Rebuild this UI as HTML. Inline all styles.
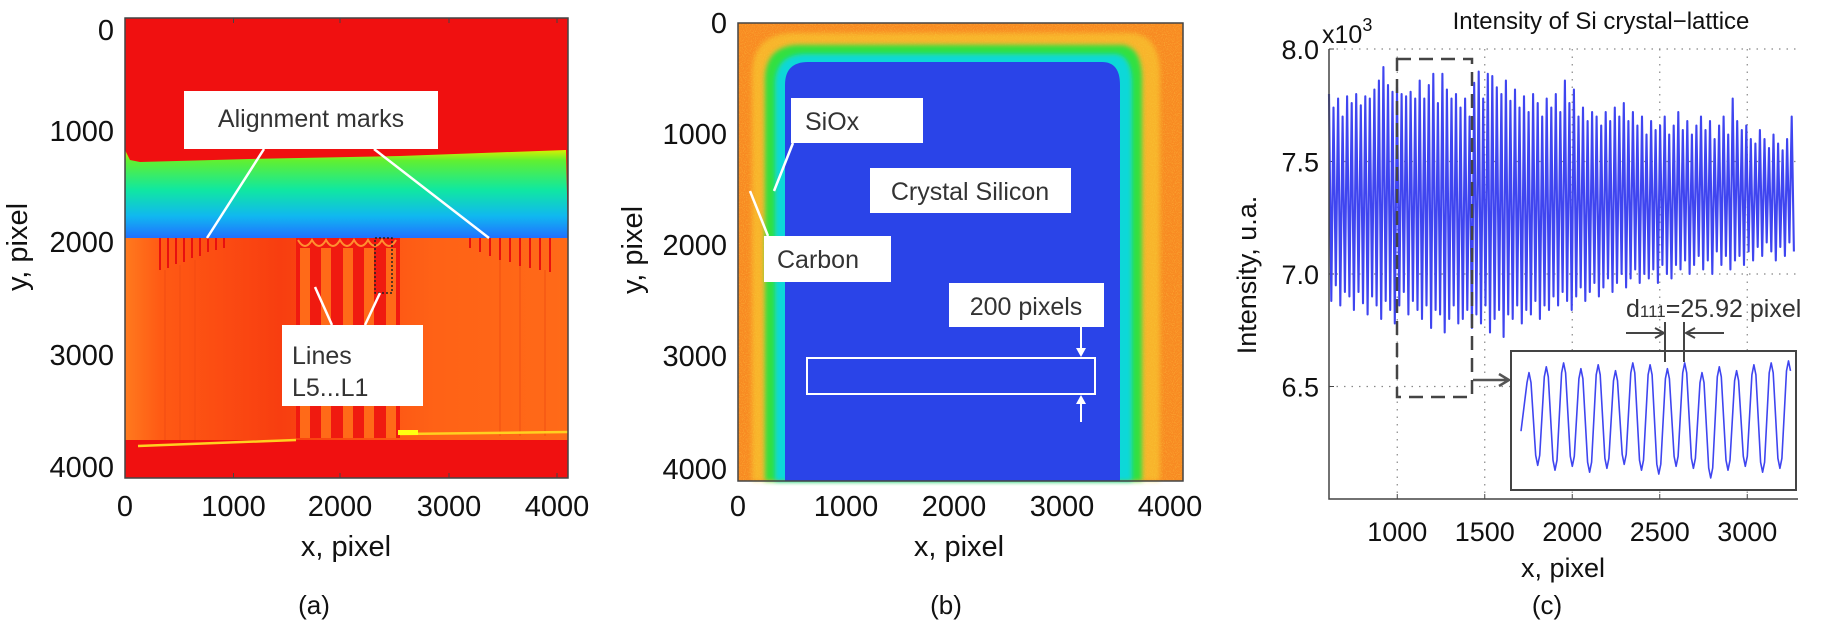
<!DOCTYPE html>
<html><head><meta charset="utf-8"><style>
html,body{margin:0;padding:0;background:#fff;}
svg{display:block;font-family:"Liberation Sans",Arial,sans-serif;}
</style></head><body>
<svg id="fig" width="1843" height="626" viewBox="0 0 1843 626">
<defs>
<linearGradient id="gA" x1="0" y1="0" x2="0" y2="1">
<stop offset="0" stop-color="#d8f000"/><stop offset="0.12" stop-color="#60f030"/><stop offset="0.45" stop-color="#10e8a0"/><stop offset="0.75" stop-color="#10b8f0"/><stop offset="1" stop-color="#2070ff"/></linearGradient>
<linearGradient id="gO" x1="0" y1="0" x2="1" y2="0">
<stop offset="0" stop-color="#ff7a1e"/><stop offset="0.08" stop-color="#ff5a14"/><stop offset="0.35" stop-color="#f83e10"/><stop offset="0.7" stop-color="#ff6216"/><stop offset="1" stop-color="#ff6a18"/></linearGradient>
<filter id="noise" x="0" y="0" width="100%" height="100%"><feTurbulence type="fractalNoise" baseFrequency="0.9" numOctaves="1" seed="3"/><feColorMatrix values="0 0 0 0 1  0 0 0 0 0.85  0 0 0 0 0.1  0 0 0 1.2 -0.55"/></filter>
<filter id="blur2"><feGaussianBlur stdDeviation="2.5"/></filter>
</defs>

<!-- PANEL A -->
<g>
<rect x="125" y="18" width="443" height="460" fill="#f01010"/>
<path d="M125,150 L130,160 L140,162 L250,159 L400,156 L566,150 L568,238 L125,238 Z" fill="url(#gA)"/>
<rect x="125" y="238" width="443" height="202" fill="url(#gO)"/>
<rect x="296" y="238" width="104" height="200" fill="#f01a10"/>
<g fill="#ff6a18">
<rect x="300" y="248" width="10" height="190"/><rect x="321" y="248" width="10" height="190"/><rect x="343" y="248" width="10" height="190"/><rect x="364" y="248" width="10" height="190"/><rect x="386" y="248" width="10" height="190"/></g>
<g stroke="#ff9030" stroke-width="2" fill="none"><path d="M298,240 q7,12 14,0 q7,12 14,0 q7,12 14,0 q7,12 14,0 q7,12 14,0 q7,12 14,0 q7,12 14,0"/></g>
<g stroke="#e81010" stroke-width="2">
<line x1="160" y1="238" x2="160" y2="270"/><line x1="168" y1="238" x2="168" y2="268"/><line x1="176" y1="238" x2="176" y2="264"/><line x1="184" y1="238" x2="184" y2="262"/><line x1="192" y1="238" x2="192" y2="258"/><line x1="200" y1="238" x2="200" y2="256"/><line x1="208" y1="238" x2="208" y2="252"/><line x1="216" y1="238" x2="216" y2="250"/><line x1="224" y1="238" x2="224" y2="248"/></g>
<g stroke="#e81010" stroke-width="2">
<line x1="470" y1="238" x2="470" y2="248"/><line x1="480" y1="238" x2="480" y2="252"/><line x1="490" y1="238" x2="490" y2="256"/><line x1="500" y1="238" x2="500" y2="260"/><line x1="510" y1="238" x2="510" y2="262"/><line x1="520" y1="238" x2="520" y2="266"/><line x1="530" y1="238" x2="530" y2="268"/><line x1="540" y1="238" x2="540" y2="270"/><line x1="550" y1="238" x2="550" y2="272"/></g>
<g stroke="#f04a12" stroke-width="1" opacity="0.8"><line x1="165" y1="270" x2="165" y2="440"/><line x1="180" y1="265" x2="180" y2="440"/><line x1="195" y1="260" x2="195" y2="440"/><line x1="500" y1="260" x2="500" y2="436"/><line x1="520" y1="266" x2="520" y2="436"/><line x1="545" y1="270" x2="545" y2="436"/></g>
<path d="M138,446 L296,440 M400,434 L568,432" stroke="#ffd020" stroke-width="2.5" fill="none"/>
<rect x="398" y="430" width="20" height="5" fill="#ffff10"/>
<rect x="375" y="238" width="17" height="55" fill="none" stroke="#222" stroke-width="1.5" stroke-dasharray="2,2"/>
<rect x="125" y="18" width="443" height="460" fill="none" stroke="#444" stroke-width="1.5"/>
<g stroke="#444" stroke-width="1"><line x1="233.5" y1="478" x2="233.5" y2="473"/><line x1="340" y1="478" x2="340" y2="473"/><line x1="449" y1="478" x2="449" y2="473"/><line x1="557" y1="478" x2="557" y2="473"/><line x1="233.5" y1="18" x2="233.5" y2="23"/><line x1="340" y1="18" x2="340" y2="23"/><line x1="449" y1="18" x2="449" y2="23"/><line x1="557" y1="18" x2="557" y2="23"/></g>
<line x1="264" y1="149" x2="207" y2="238" stroke="#fff" stroke-width="2.5"/>
<line x1="374" y1="149" x2="489" y2="238" stroke="#fff" stroke-width="2.5"/>
<rect x="184" y="91" width="254" height="58" fill="#fff"/>
<text x="311" y="127" font-size="25" text-anchor="middle" fill="#333">Alignment marks</text>
<line x1="332" y1="325" x2="315" y2="287" stroke="#fff" stroke-width="2.5"/>
<line x1="365" y1="325" x2="380" y2="293" stroke="#fff" stroke-width="2.5"/>
<rect x="282" y="325" width="141" height="81" fill="#fff"/>
<text x="292" y="364" font-size="25" fill="#333">Lines</text>
<text x="292" y="396" font-size="25" fill="#333">L5...L1</text>
<g font-size="29" text-anchor="end" fill="#111">
<text x="114" y="40">0</text><text x="114" y="141">1000</text><text x="114" y="252">2000</text><text x="114" y="365">3000</text><text x="114" y="477">4000</text></g>
<g font-size="29" text-anchor="middle" fill="#111">
<text x="125" y="516">0</text><text x="233.5" y="516">1000</text><text x="340" y="516">2000</text><text x="449" y="516">3000</text><text x="557" y="516">4000</text></g>
<text x="346" y="556" font-size="29" text-anchor="middle" fill="#111">x, pixel</text>
<text transform="translate(27,247) rotate(-90)" font-size="29" text-anchor="middle" fill="#111">y, pixel</text>
<text x="314" y="614" font-size="26" text-anchor="middle" fill="#111">(a)</text>
</g>

<!-- PANEL B -->
<g>
<rect x="738" y="23" width="445" height="458" fill="#f88a22"/>
<rect x="738" y="23" width="445" height="458" filter="url(#noise)" opacity="0.7"/>
<path d="M752,481 L752,75 Q752,33 794,33 L1128,33 Q1160,33 1160,75 L1160,481 Z" fill="#f8d030" filter="url(#blur2)" opacity="0.6"/>
<path d="M765,481 L765,80 Q765,45 800,45 L1120,45 Q1142,45 1142,80 L1142,481 Z" fill="#30e040" filter="url(#blur2)"/>
<path d="M775,481 L775,85 Q775,54 806,54 L1114,54 Q1132,54 1132,85 L1132,481 Z" fill="#10d8d8" filter="url(#blur2)"/>
<path d="M785,481 L785,85 Q785,62 808,62 L1102,62 Q1120,62 1120,85 L1120,481 Z" fill="#2a44e8"/>
<rect x="738" y="23" width="445" height="458" fill="none" stroke="#444" stroke-width="1.5"/>
<line x1="793" y1="143" x2="774" y2="191" stroke="#fff" stroke-width="2.5"/>
<line x1="768" y1="236" x2="750" y2="191" stroke="#fff" stroke-width="2.5"/>
<rect x="791" y="98" width="132" height="45" fill="#fff"/>
<text x="805" y="130" font-size="25" fill="#333">SiOx</text>
<rect x="870" y="168" width="201" height="45" fill="#fff"/>
<text x="970" y="200" font-size="25" text-anchor="middle" fill="#333">Crystal Silicon</text>
<rect x="764" y="236" width="127" height="46" fill="#fff"/>
<text x="777" y="268" font-size="25" fill="#333">Carbon</text>
<rect x="949" y="283" width="155" height="44" fill="#fff"/>
<text x="1026" y="315" font-size="25" text-anchor="middle" fill="#333">200 pixels</text>
<rect x="807" y="358" width="288" height="36" fill="none" stroke="#fff" stroke-width="2"/>
<line x1="1081" y1="327" x2="1081" y2="355" stroke="#fff" stroke-width="2"/><path d="M1076,348 L1081,357 L1086,348" fill="#fff"/>
<line x1="1081" y1="422" x2="1081" y2="397" stroke="#fff" stroke-width="2"/><path d="M1076,404 L1081,395 L1086,404" fill="#fff"/>
<g font-size="29" text-anchor="end" fill="#111">
<text x="727" y="33">0</text><text x="727" y="144">1000</text><text x="727" y="255">2000</text><text x="727" y="366">3000</text><text x="727" y="479">4000</text></g>
<g font-size="29" text-anchor="middle" fill="#111">
<text x="738" y="516">0</text><text x="846" y="516">1000</text><text x="954" y="516">2000</text><text x="1062" y="516">3000</text><text x="1170" y="516">4000</text></g>
<text x="959" y="556" font-size="29" text-anchor="middle" fill="#111">x, pixel</text>
<text transform="translate(642,250) rotate(-90)" font-size="29" text-anchor="middle" fill="#111">y, pixel</text>
<text x="946" y="614" font-size="26" text-anchor="middle" fill="#111">(b)</text>
</g>

<!-- PANEL C -->
<g id="pc"></g>
</svg>
<script>
const xTicks = [1000, 1500, 2000, 2500, 3000];
const yTicks = [8.0, 7.5, 7.0, 6.5];
const yTickLabels = ["8.0", "7.5", "7.0", "6.5"];
const peaks = [7.80,7.74,7.78,7.70,7.79,7.76,7.80,7.75,7.79,7.78,
7.82,7.86,7.92,7.84,7.81,7.83,7.80,7.79,7.81,7.78,
7.86,7.78,7.84,7.89,7.76,7.89,7.82,7.78,7.80,7.74,
7.78,7.70,7.85,7.90,7.78,7.89,7.88,7.83,7.80,7.86,
7.77,7.82,7.74,7.79,7.72,7.80,7.76,7.70,7.78,7.74,
7.80,7.72,7.86,7.76,7.82,7.70,7.74,7.68,7.72,7.70,
7.66,7.72,7.68,7.74,7.70,7.76,7.68,7.72,7.66,7.70,
7.62,7.68,7.64,7.66,7.70,7.62,7.66,7.72,7.64,7.68,
7.62,7.66,7.70,7.64,7.68,7.60,7.66,7.70,7.62,7.78,
7.68,7.64,7.66,7.60,7.58,7.64,7.60,7.56,7.62,7.58,7.55,7.60,7.70];
const troughs = [6.88,6.95,6.86,6.92,6.90,6.84,6.92,6.87,6.82,6.90,
6.86,6.80,6.88,6.84,6.78,6.86,6.92,6.82,6.88,6.84,
6.80,6.86,6.76,6.84,6.82,6.74,6.80,6.86,6.78,6.80,
6.84,6.76,6.82,6.78,6.86,6.74,6.80,6.84,6.72,6.82,
6.80,6.86,6.78,6.84,6.82,6.88,6.80,6.86,6.84,6.90,
6.86,6.92,6.88,6.84,6.90,6.94,6.88,6.92,6.96,6.90,
6.94,6.98,6.92,6.96,7.00,6.94,6.98,7.02,6.96,7.00,
6.98,7.02,6.96,7.04,7.00,6.98,7.04,7.02,7.06,7.00,
7.04,7.08,7.02,7.06,7.00,7.10,7.04,7.08,7.02,7.06,
7.08,7.04,7.10,7.06,7.12,7.08,7.14,7.10,7.06,7.12,7.08,7.14,7.10];
const insetPeaks = [7.80,7.86,7.90,7.84,7.88,7.82,7.90,7.88,7.84,7.90,7.80,7.86,7.82,7.88,7.90,7.92];
const insetTroughs = [6.85,6.80,6.84,6.78,6.82,6.86,6.80,6.76,6.84,6.82,6.72,6.80,6.84,6.78,6.82,6.80];
const period = 25.92;
const xStart = 610;

const NS = "http://www.w3.org/2000/svg";
const g = document.getElementById("pc");
const L = 1329, R = 1798, T = 49, B = 499;
const xMin = 610, xMax = 3290, yMin = 6.0, yMax = 8.0;
const xs = v => L + (v - xMin) / (xMax - xMin) * (R - L);
const ys = v => B - (v - yMin) / (yMax - yMin) * (B - T);
function mk(tag, attrs, parent) {
  const e = document.createElementNS(NS, tag);
  for (const k in attrs) e.setAttribute(k, attrs[k]);
  (parent || g).appendChild(e);
  return e;
}
xTicks.forEach(t => {
  const l = mk("line", {x1: xs(t), x2: xs(t), y1: T, y2: B, stroke: "#888", "stroke-width": 1.2, "stroke-dasharray": "1.5,6"});
  
  
  mk("line", {x1: xs(t), x2: xs(t), y1: B, y2: B - 5, stroke: "#444"});
  const tx = mk("text", {x: xs(t), y: 541, "font-size": 27, "text-anchor": "middle", fill: "#111"});
  tx.textContent = t;
  
  
});
yTicks.forEach((t, i) => {
  const l = mk("line", {x1: L, x2: R, y1: ys(t), y2: ys(t), stroke: "#888", "stroke-width": 1.2, "stroke-dasharray": "1.5,6"});
  
  
  mk("line", {x1: L, x2: L + 5, y1: ys(t), y2: ys(t), stroke: "#444"});
  const tx = mk("text", {x: 1319, y: ys(t) + 10, "font-size": 27, "text-anchor": "end", fill: "#111"});
  tx.textContent = yTickLabels[i];
  
  
});
let d = "";
for (let i = 0; i < peaks.length; i++) {
  const xp = xStart + i * period;
  d += (i === 0 ? "M" : "L") + xs(xp).toFixed(1) + "," + ys(peaks[i]).toFixed(1);
  if (i < troughs.length) {
    const xt = Math.min(xp + period / 2, xMax);
    d += "L" + xs(xt).toFixed(1) + "," + ys(troughs[i]).toFixed(1);
  }
}
const line = mk("path", {d: d, fill: "none", stroke: "#3f45f0", "stroke-width": 2.1, "stroke-linejoin": "round"});


const ax = mk("path", {d: `M${L},${T} L${L},${B} L${R},${B}`, fill: "none", stroke: "#444", "stroke-width": 1.5});


const db = mk("rect", {x: 1397, y: 59, width: 75, height: 338, fill: "none", stroke: "#444", "stroke-width": 2.5, "stroke-dasharray": "14,8"});


const ar = mk("path", {d: "M1473,380 L1508,380 M1499,374 L1509,380 L1499,386", fill: "none", stroke: "#555", "stroke-width": 2.5});


const ib = mk("rect", {x: 1511, y: 351, width: 285, height: 139, fill: "#fff", stroke: "#444", "stroke-width": 2});


const iL = 1529, iStep = 17.3;
const iy = v => 480 - (v - 6.70) / (7.95 - 6.70) * (480 - 358);
let di = "M" + (iL - 8) + "," + iy(7.2).toFixed(1);
for (let i = 0; i < insetPeaks.length; i++) {
  const xp = iL + i * iStep;
  di += "L" + (xp - 2).toFixed(1) + "," + (iy(insetPeaks[i]) + 10).toFixed(1);
  di += "L" + xp.toFixed(1) + "," + iy(insetPeaks[i]).toFixed(1);
  di += "L" + (xp + 2).toFixed(1) + "," + (iy(insetPeaks[i]) + 10).toFixed(1);
  if (i < insetPeaks.length - 1) {
    const xt = xp + iStep / 2;
    di += "L" + (xt - 2).toFixed(1) + "," + (iy(insetTroughs[i]) - 10).toFixed(1);
    di += "L" + xt.toFixed(1) + "," + iy(insetTroughs[i]).toFixed(1);
    di += "L" + (xt + 2).toFixed(1) + "," + (iy(insetTroughs[i]) - 10).toFixed(1);
  }
}
const il = mk("path", {d: di, fill: "none", stroke: "#3f45f0", "stroke-width": 1.6, "stroke-linejoin": "round"});


const ann = mk("path", {d: "M1626,333 L1662,333 M1655,328 L1664,333 L1655,338 M1724,333 L1688,333 M1695,328 L1686,333 L1695,338 M1665,322 L1665,362 M1684,322 L1684,362", fill: "none", stroke: "#444", "stroke-width": 2});


const at = mk("text", {x: 1626, y: 317, "font-size": 25, fill: "#333"});
at.innerHTML = 'd<tspan font-size="17" dy="0">111</tspan>=25.92 pixel';


const tt = mk("text", {x: 1601, y: 29, "font-size": 24, "text-anchor": "middle", fill: "#111"});
tt.textContent = "Intensity of Si crystal\u2212lattice";


const ex = mk("text", {x: 1322, y: 43, "font-size": 25, fill: "#111"});
ex.innerHTML = 'x10<tspan font-size="18" dy="-12">3</tspan>';


const xt2 = mk("text", {x: 1563, y: 577, "font-size": 27, "text-anchor": "middle", fill: "#111"});
xt2.textContent = "x, pixel";


const yt = mk("text", {transform: "translate(1256,275) rotate(-90)", "font-size": 27, "text-anchor": "middle", fill: "#111"});
yt.textContent = "Intensity, u.a.";


const cp = mk("text", {x: 1547, y: 614, "font-size": 26, "text-anchor": "middle", fill: "#111"});
cp.textContent = "(c)";


</script>
</body></html>
